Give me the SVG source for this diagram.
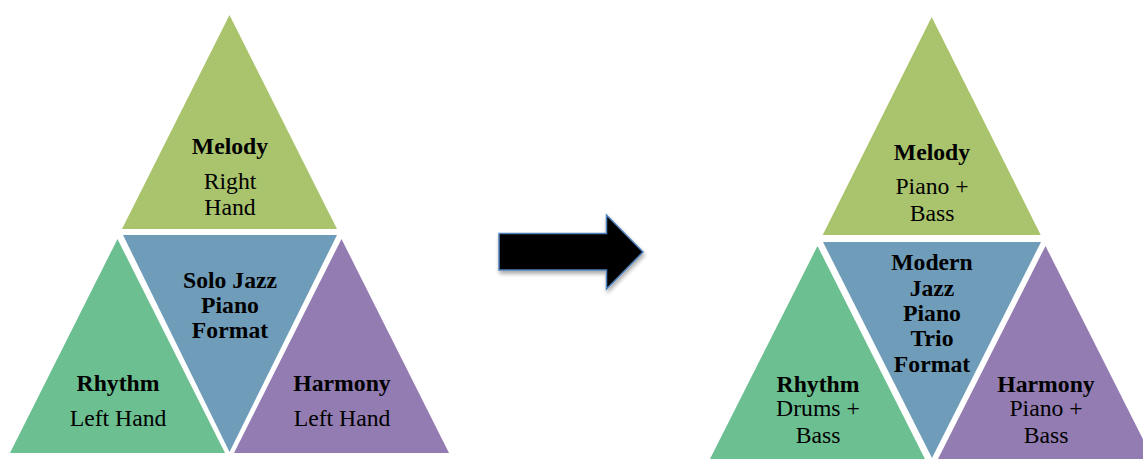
<svg xmlns="http://www.w3.org/2000/svg" width="1143" height="460" viewBox="0 0 1143 460">
  <style>
    .b { font-family: "Liberation Serif", "Times New Roman", serif; font-size: 23.7px; font-weight: bold; fill: #000; text-anchor: middle; }
    .r { font-family: "Liberation Serif", "Times New Roman", serif; font-size: 23.7px; fill: #000; text-anchor: middle; }
    .mel { fill: #aac46d; }
    .rhy { fill: #6bbf91; }
    .ctr { fill: #6f9db9; }
    .har { fill: #937cb1; }
  </style>
  <defs>
    <filter id="sh" x="-20%" y="-20%" width="140%" height="150%">
      <feGaussianBlur in="SourceAlpha" stdDeviation="2"/>
      <feOffset dx="1" dy="3"/>
      <feComponentTransfer><feFuncA type="linear" slope="0.35"/></feComponentTransfer>
      <feMerge><feMergeNode/><feMergeNode in="SourceGraphic"/></feMerge>
    </filter>
  </defs>
  <rect width="1143" height="460" fill="#fff"/>

  <!-- Left pyramid -->
  <g id="solo-melody">
    <polygon class="mel" points="229.5,15 337,229 122,229"/>
    <text class="b" x="230" y="154">Melody</text>
    <text class="r" x="230" y="189">Right</text>
    <text class="r" x="230" y="215">Hand</text>
  </g>
  <g id="solo-center">
    <polygon class="ctr" points="123,235 337,235 229.5,452"/>
    <text class="b" x="230" y="288">Solo Jazz</text>
    <text class="b" x="230" y="313">Piano</text>
    <text class="b" x="230" y="338">Format</text>
  </g>
  <g id="solo-rhythm">
    <polygon class="rhy" points="117.5,239 225,453 10,453"/>
    <text class="b" x="118" y="391">Rhythm</text>
    <text class="r" x="118" y="426">Left Hand</text>
  </g>
  <g id="solo-harmony">
    <polygon class="har" points="341.5,239 449,453 234,453"/>
    <text class="b" x="342" y="391">Harmony</text>
    <text class="r" x="342" y="426">Left Hand</text>
  </g>

  <!-- Arrow -->
  <g id="connectors">
    <polygon filter="url(#sh)" points="499,233.5 606.5,233.5 606.5,215 643,252 606.5,289 606.5,270 499,270" fill="#000" stroke="#4f81bd" stroke-width="1.5"/>
  </g>

  <!-- Right pyramid -->
  <g id="trio-melody">
    <polygon class="mel" points="931.7,17 1040.7,235 822.7,235"/>
    <text class="b" x="932" y="160">Melody</text>
    <text class="r" x="932" y="194">Piano +</text>
    <text class="r" x="932" y="221">Bass</text>
  </g>
  <g id="trio-center">
    <polygon class="ctr" points="823,242 1041,242 932,458"/>
    <text class="b" x="932" y="270">Modern</text>
    <text class="b" x="932" y="296">Jazz</text>
    <text class="b" x="932" y="321">Piano</text>
    <text class="b" x="932" y="346">Trio</text>
    <text class="b" x="932" y="372">Format</text>
  </g>
  <g id="trio-rhythm">
    <polygon class="rhy" points="817.5,246 925,459 710,459"/>
    <text class="b" x="818" y="392">Rhythm</text>
    <text class="r" x="818" y="416">Drums +</text>
    <text class="r" x="818" y="443">Bass</text>
  </g>
  <g id="trio-harmony">
    <polygon class="har" points="1045.5,246 1153,459 938,459"/>
    <text class="b" x="1046" y="392">Harmony</text>
    <text class="r" x="1046" y="416">Piano +</text>
    <text class="r" x="1046" y="443">Bass</text>
  </g>
</svg>
